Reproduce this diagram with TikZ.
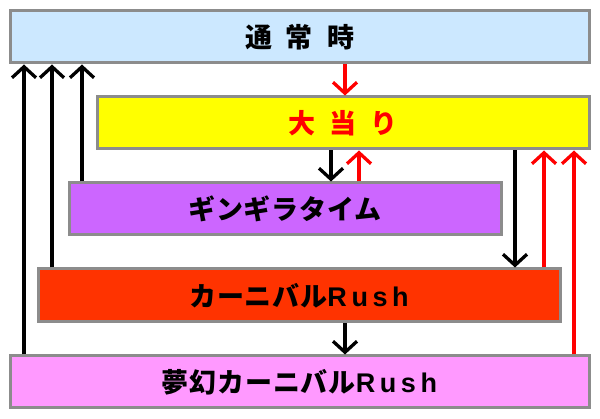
\documentclass[tikz,border=0pt]{standalone}
\usepackage{fontspec}
\newfontfamily\jp{Noto Sans CJK JP}[LetterSpace=3]
\newfontfamily\rushf{Liberation Sans}[LetterSpace=17]
\usetikzlibrary{arrows.meta}
\definecolor{bxgray}{HTML}{8C8C8C}
\definecolor{cblue}{HTML}{CCE8FF}
\definecolor{cyellow}{HTML}{FFFF00}
\definecolor{cpurple}{HTML}{CC66FF}
\definecolor{corange}{HTML}{FF3300}
\definecolor{cpink}{HTML}{FF99FF}
\definecolor{cred}{HTML}{FF0000}
\newcommand{\Rush}{{\rushf\bfseries Rush}}
\tikzset{
  box/.style={draw=bxgray, line width=3pt, inner sep=0pt, minimum height=52pt,
    font=\jp\bfseries\fontsize{27}{30}\selectfont},
  arr/.style={line width=3.3pt, -{Straight Barb[length=11pt,width=24pt]}},
  blk/.style={arr, draw=black},
  rd/.style={arr, draw=cred}
}
\begin{document}
\begin{tikzpicture}[x=1pt,y=-1pt]
\useasboundingbox (0,0) rectangle (600,419);
\node[box, fill=cblue,   minimum width=579pt] (n1) at (299.5,37) {通\hspace{14pt}常\hspace{14pt}時};
\node[box, fill=cyellow, minimum width=492pt, text=cred] (n2) at (343,123) {大\hspace{14pt}当\hspace{14pt}り};
\node[box, fill=cpurple, minimum width=432pt] (n3) at (285,209) {ギンギラタイム};
\node[box, fill=corange, minimum width=522pt, minimum height=53pt] (n4) at (299,295.5) {カーニバル\Rush};
\node[box, fill=cpink,   minimum width=579pt] (n5) at (299.5,382) {夢幻カーニバル\Rush};
% returns to normal
\draw[blk] (n5.north -| 24,0) -- (n1.south -| 24,0);
\draw[blk] (n4.north -| 52,0) -- (n1.south -| 52,0);
\draw[blk] (n3.north -| 82,0) -- (n1.south -| 82,0);
% normal -> big hit
\draw[rd] (n1.south -| 345,0) -- (n2.north -| 345,0);
% big hit <-> gingira
\draw[blk] (n2.south -| 331,0) -- (n3.north -| 331,0);
\draw[rd] (n3.north -| 359,0) -- (n2.south -| 359,0);
% big hit -> carnival
\draw[blk] (n2.south -| 515,0) -- (n4.north -| 515,0);
\draw[rd] (n4.north -| 544,0) -- (n2.south -| 544,0);
\draw[rd] (n5.north -| 574,0) -- (n2.south -| 574,0);
% carnival -> mugen
\draw[blk] (n4.south -| 345,0) -- (n5.north -| 345,0);
\end{tikzpicture}
\end{document}
